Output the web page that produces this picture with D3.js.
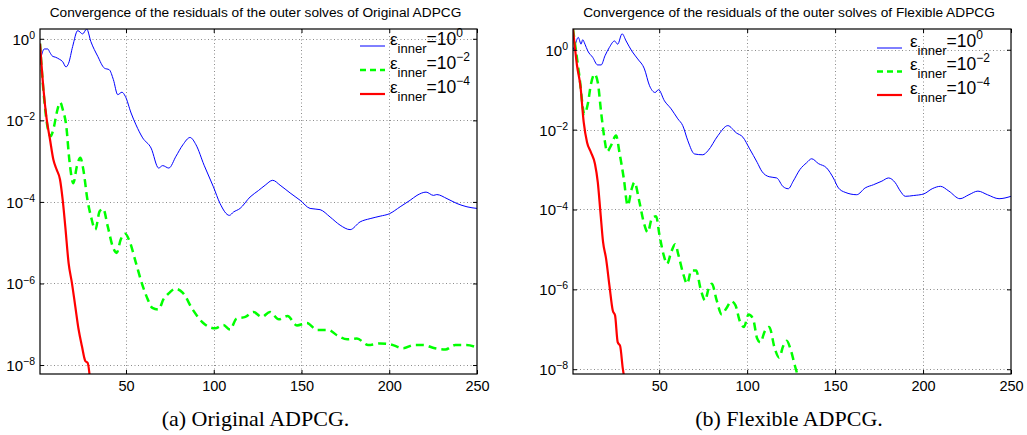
<!DOCTYPE html>
<html>
<head>
<meta charset="utf-8">
<script src="https://cdn.jsdelivr.net/npm/d3@7"></script>
<style>
body { margin: 0; background: #fff; }
svg text { font-family: "Liberation Sans", Arial, Helvetica, sans-serif; fill: #000; }
.caption { font-family: "Liberation Serif", "Times New Roman", serif; }
</style>
</head>
<body>
<script>
// iteration, log10(residual)
var origInner0 = [[1,-0.56],[3.5,-0.25],[5.4,-0.25],[6.7,-0.34],[8.2,-0.43],[9.7,-0.45],[12,-0.50],[13.9,-0.56],[15.8,-0.69],[17.3,-0.60],[19.6,-0.19],[22.5,0.20],[25.3,0.12],[27.6,0.24],[30,-0.07],[33.9,-0.43],[37.7,-0.72],[40.5,-0.76],[42.8,-1.00],[45.3,-1.37],[47.7,-1.31],[49.6,-1.41],[52.9,-1.82],[55.7,-2.11],[59.5,-2.43],[64.3,-2.68],[68.6,-3.17],[70.9,-3.11],[74.4,-3.17],[78.5,-2.88],[82.4,-2.60],[86.5,-2.42],[89.9,-2.60],[94.5,-3.10],[99.8,-3.63],[103.6,-4.04],[108.9,-4.33],[111.2,-4.25],[115,-4.16],[120.7,-3.88],[125.5,-3.72],[129.3,-3.59],[133.6,-3.47],[137.8,-3.59],[143.5,-3.78],[149.2,-3.96],[154.9,-4.16],[160.6,-4.19],[166.3,-4.37],[172,-4.57],[177.7,-4.68],[183.4,-4.49],[189.1,-4.41],[194.8,-4.35],[200.1,-4.29],[206.2,-4.12],[211.9,-3.96],[215.8,-3.84],[221,-3.76],[225.2,-3.84],[227.1,-3.82],[232.9,-3.92],[238.6,-4.04],[244.3,-4.12],[250,-4.16]];
var origInner2 = [[1,-0.12],[3,-1.30],[7,-2.39],[9,-2.15],[10.5,-1.82],[12.5,-1.56],[14,-1.74],[16,-2.15],[17.7,-2.96],[20,-3.54],[22,-3.13],[24,-2.92],[25.7,-3.21],[28,-3.94],[30,-4.35],[32.5,-4.68],[35,-4.23],[37,-4.17],[39.6,-4.60],[42.4,-5.09],[44.7,-5.25],[47,-4.92],[49.6,-4.78],[52,-4.96],[55.7,-5.50],[59,-5.99],[62.4,-6.39],[65,-6.60],[68.6,-6.64],[71.3,-6.39],[74.7,-6.23],[78,-6.13],[82.4,-6.23],[88,-6.64],[94,-6.97],[100.8,-7.10],[105.5,-7.02],[109.3,-7.13],[113,-6.86],[118,-6.82],[122.6,-6.70],[127.4,-6.82],[132,-6.70],[137,-6.88],[142,-6.80],[147.4,-7.03],[153,-6.97],[158.8,-7.14],[165.4,-7.14],[170.2,-7.27],[176,-7.37],[181.6,-7.35],[188,-7.51],[194.8,-7.47],[200.5,-7.49],[208,-7.59],[213.8,-7.51],[219.5,-7.51],[226,-7.59],[232,-7.62],[237.6,-7.51],[244,-7.51],[250,-7.57]];
var origInner4 = [[1,-0.12],[3,-1.25],[4.8,-1.97],[6.7,-2.47],[8.6,-2.96],[10.5,-3.21],[12.4,-3.45],[13.9,-3.94],[15.4,-4.60],[17.3,-5.50],[19.2,-5.99],[21.1,-6.56],[23,-7.13],[24.9,-7.54],[26.8,-7.90],[28.2,-7.95],[29.4,-8.30]];

var flexInner0 = [[1,0],[2,0.10],[4,0.31],[5.6,0.14],[6.5,0.25],[7.8,0.14],[9.4,-0.03],[12.2,-0.19],[15,-0.38],[17,-0.38],[19.2,-0.15],[21.7,0.06],[24.6,0.22],[26.4,0.14],[28.9,0.40],[31.2,0.22],[34.4,-0.03],[37.8,-0.23],[41.6,-0.48],[44.5,-0.90],[47.7,-1.07],[49.6,-1.00],[53,-1.28],[56.8,-1.48],[60.6,-1.73],[63.4,-1.90],[66.3,-2.28],[70.1,-2.61],[74.8,-2.63],[77.7,-2.53],[83.4,-2.15],[89,-1.90],[93.8,-2.08],[97.6,-2.19],[101.4,-2.48],[105.7,-2.82],[108.3,-3.04],[112.5,-3.18],[116.8,-3.21],[120.5,-3.43],[123.4,-3.48],[126.2,-3.29],[130,-3.00],[133.8,-2.83],[136.7,-2.73],[140.5,-2.85],[145.2,-2.96],[149,-3.21],[151.9,-3.46],[155.7,-3.57],[162.3,-3.63],[167.1,-3.46],[171.8,-3.38],[176.6,-3.29],[180.4,-3.21],[184.2,-3.33],[187.1,-3.54],[189.9,-3.67],[194.7,-3.65],[200.4,-3.61],[205.2,-3.48],[209.9,-3.42],[214.7,-3.54],[221,-3.73],[226.1,-3.63],[231.2,-3.54],[236.6,-3.63],[243.2,-3.73],[250,-3.67]];
var flexInner2 = [[1,0.52],[4.6,-0.65],[7.5,-1.61],[9.4,-1.36],[11.2,-0.86],[13.2,-0.61],[15.1,-0.82],[17,-1.57],[18.9,-2.23],[20.4,-2.55],[22.6,-2.40],[25.5,-2.15],[27.4,-2.57],[29.9,-3.23],[32.1,-3.90],[34.4,-3.48],[35.9,-3.32],[38.8,-3.82],[41.2,-4.32],[43.5,-4.57],[45.8,-4.23],[48.2,-4.17],[50.2,-4.65],[52.6,-5.15],[54.5,-5.36],[56.8,-5.07],[59.1,-4.87],[61,-5.15],[63.4,-5.57],[65.9,-5.86],[68.2,-5.53],[71,-5.53],[73.5,-5.98],[76.1,-6.28],[78.1,-5.98],[80,-5.86],[82.4,-6.23],[85.6,-6.63],[88.1,-6.48],[91,-6.30],[93.4,-6.40],[95.7,-6.78],[98.2,-6.94],[100.8,-6.63],[103.3,-6.73],[105.7,-7.23],[107.5,-7.33],[110,-7.05],[112.5,-6.94],[115.8,-7.50],[118.2,-7.71],[120.5,-7.42],[122.5,-7.29],[124.4,-7.46],[127.2,-7.92],[129,-8.20]];
var flexInner4 = [[1,0.52],[3.3,-0.40],[5.2,-0.90],[7.1,-1.82],[9,-2.32],[11.2,-2.57],[13.5,-2.86],[15.1,-3.32],[16.6,-4.07],[18.1,-4.82],[19.8,-5.23],[21.7,-5.90],[23.6,-6.53],[24.9,-6.65],[26.4,-7.32],[27.8,-7.42],[29.3,-7.98],[30.5,-8.30]];

var iterTicks = [50, 100, 150, 200, 250];
var expTicks = [0, -2, -4, -6, -8];
var legendExp = ["0", "\u22122", "\u22124"];

var seriesStyle = [
	{color: "#0000ff", width: 1, dash: null},
	{color: "#00ff00", width: 2.5, dash: "8,5"},
	{color: "#ff0000", width: 2.2, dash: null}
];

var panels = [
	{title: "Convergence of the residuals of the outer solves of Original ADPCG", caption: "(a) Original ADPCG.",
	 left: 40, right: 477, top: 29, bottom: 374, yMin: -8.22, yMax: 0.24,
	 series: [origInner0, origInner2, origInner4], lineX: 360, textX: 390, rows: [46, 70, 94]},
	{title: "Convergence of the residuals of the outer solves of Flexible ADPCG", caption: "(b) Flexible ADPCG.",
	 left: 573, right: 1011, top: 29, bottom: 374, yMin: -8.12, yMax: 0.52,
	 series: [flexInner0, flexInner2, flexInner4], lineX: 877, textX: 910, rows: [48, 71.5, 95]}
];

var svg = d3.select("body").append("svg")
	.attr("width", 1027)
	.attr("height", 435);

panels.forEach(function(p, k){ drawPanel(p, k); });

function drawPanel(p, k){
	var x = d3.scaleLinear().domain([1, 250]).range([p.left, p.right]);
	var y = d3.scaleLog().domain([Math.pow(10, p.yMin), Math.pow(10, p.yMax)]).range([p.bottom, p.top]);
	var yTickVals = expTicks.map(function(e){ return Math.pow(10, e); });
	var g = svg.append("g");

	g.append("clipPath").attr("id", "clip" + k)
		.append("rect")
		.attr("x", p.left).attr("y", p.top)
		.attr("width", p.right - p.left).attr("height", p.bottom - p.top);

	// dotted grid
	g.selectAll(".vgrid").data(iterTicks.slice(0, -1)).enter().append("line")
		.attr("x1", function(d){ return Math.round(x(d)) + 0.5; })
		.attr("x2", function(d){ return Math.round(x(d)) + 0.5; })
		.attr("y1", p.top).attr("y2", p.bottom)
		.attr("stroke", "#8c8c8c").attr("stroke-dasharray", "1,2.5");
	g.selectAll(".hgrid").data(yTickVals).enter().append("line")
		.attr("y1", function(d){ return Math.round(y(d)) + 0.5; })
		.attr("y2", function(d){ return Math.round(y(d)) + 0.5; })
		.attr("x1", p.left).attr("x2", p.right)
		.attr("stroke", "#8c8c8c").attr("stroke-dasharray", "1,2.5");

	var line = d3.line()
		.x(function(d){ return x(d[0]); })
		.y(function(d){ return y(Math.pow(10, d[1])); })
		.curve(d3.curveMonotoneX);

	p.series.forEach(function(s, i){
		var st = seriesStyle[i];
		g.append("path")
			.datum(s)
			.attr("clip-path", "url(#clip" + k + ")")
			.attr("fill", "none")
			.attr("stroke", st.color)
			.attr("stroke-width", st.width)
			.attr("stroke-dasharray", st.dash)
			.attr("d", line);
	});

	// axes, ticks pointing inwards like matlab
	var bottomAxis = g.append("g")
		.attr("transform", "translate(0," + p.bottom + ")")
		.call(d3.axisBottom(x).tickValues(iterTicks).tickSizeInner(-4).tickSizeOuter(0).tickPadding(7));
	g.append("g")
		.attr("transform", "translate(0," + p.top + ")")
		.call(d3.axisTop(x).tickValues(iterTicks).tickSizeInner(-4).tickSizeOuter(0).tickFormat(""));
	var leftAxis = g.append("g")
		.attr("transform", "translate(" + p.left + ",0)")
		.call(d3.axisLeft(y).tickValues(yTickVals).tickSizeInner(-4).tickSizeOuter(0).tickPadding(5));
	g.append("g")
		.attr("transform", "translate(" + p.right + ",0)")
		.call(d3.axisRight(y).tickValues(yTickVals).tickSizeInner(-4).tickSizeOuter(0).tickFormat(""));

	g.selectAll(".domain").remove();
	g.selectAll(".tick line").attr("stroke", "#000");
	bottomAxis.selectAll("text").style("font-size", "14.5px").attr("font-family", null);

	leftAxis.selectAll(".tick text")
		.attr("font-family", null)
		.style("font-size", "15px")
		.attr("dy", "0.36em")
		.each(function(d, i){
			var t = d3.select(this);
			var e = expTicks[i];
			t.text("10");
			t.append("tspan")
				.attr("dy", "-0.55em")
				.style("font-size", "10.5px")
				.text(e === 0 ? "0" : "\u2212" + Math.abs(e));
		});

	g.append("rect")
		.attr("x", p.left).attr("y", p.top)
		.attr("width", p.right - p.left).attr("height", p.bottom - p.top)
		.attr("fill", "none").attr("stroke", "#000").attr("stroke-width", 1.2);

	// legend (no box)
	p.rows.forEach(function(ry, i){
		var st = seriesStyle[i];
		g.append("line")
			.attr("x1", p.lineX).attr("x2", p.lineX + 25)
			.attr("y1", ry).attr("y2", ry)
			.attr("stroke", st.color)
			.attr("stroke-width", st.width)
			.attr("stroke-dasharray", st.dash ? "6,4" : null);
		var txt = g.append("text")
			.attr("x", p.textX)
			.attr("y", ry - 1.5);
		txt.append("tspan").style("font-size", "17px").text("\u03b5");
		txt.append("tspan").attr("dy", 8).style("font-size", "13px").text("inner");
		txt.append("tspan").attr("dy", -8).style("font-size", "17.5px").text("=10");
		txt.append("tspan").attr("dy", -8).style("font-size", "12px").text(legendExp[i]);
	});

	g.append("text")
		.attr("x", (p.left + p.right) / 2 - 3)
		.attr("y", 17)
		.attr("text-anchor", "middle")
		.style("font-size", "13.7px")
		.text(p.title);

	g.append("text")
		.attr("class", "caption")
		.attr("x", (p.left + p.right) / 2 - 3)
		.attr("y", 426)
		.attr("text-anchor", "middle")
		.style("font-size", "22px")
		.text(p.caption);
}
</script>
</body>
</html>
